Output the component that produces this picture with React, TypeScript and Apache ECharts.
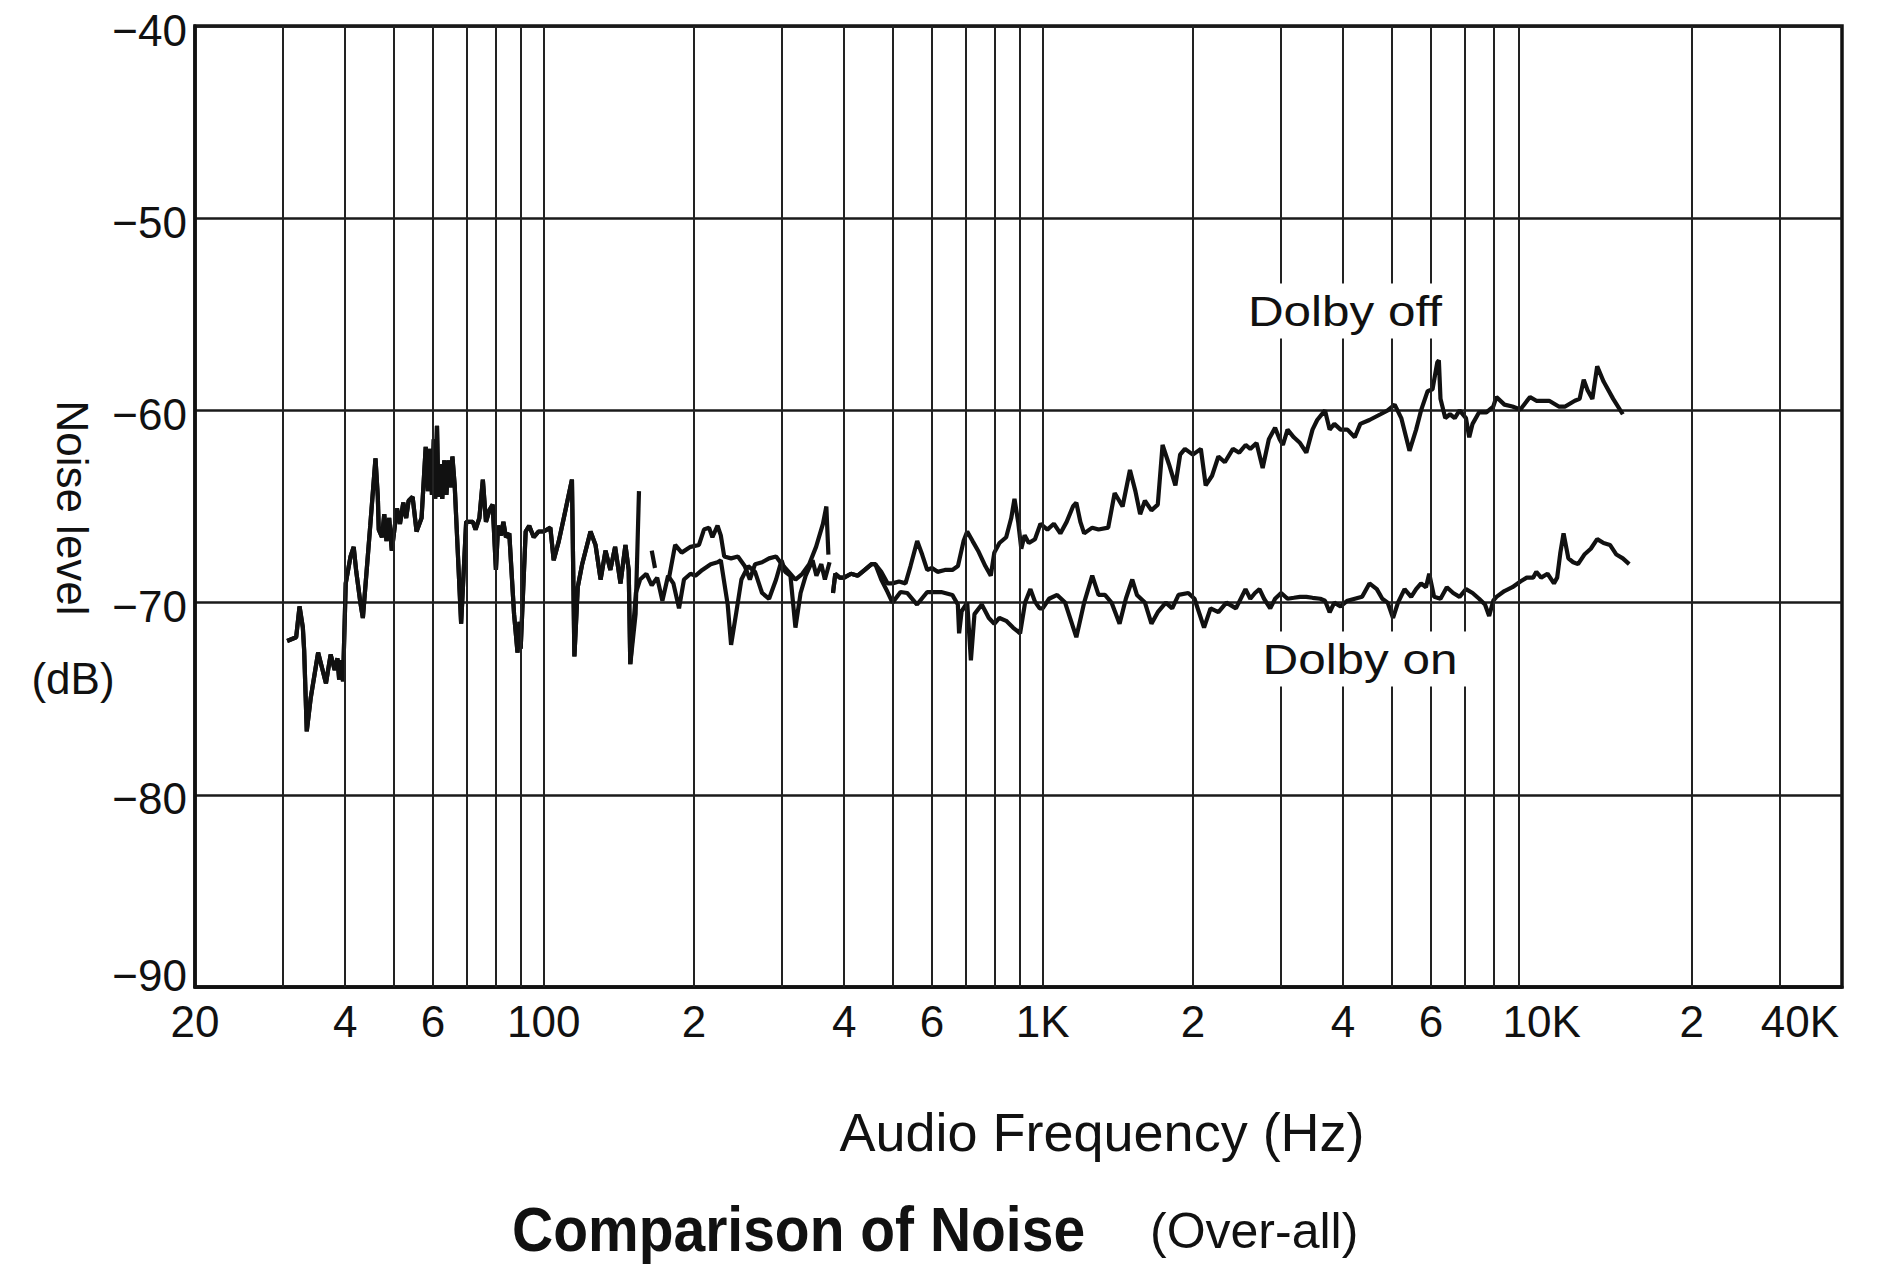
import React, { useEffect, useRef } from "react";
import * as echarts from "echarts";

// Frequencies (Hz) of the printed vertical grid lines
const gridFreqs = [30, 40, 50, 60, 70, 80, 90, 100, 200, 300, 400, 500, 600, 700, 800, 900, 1000, 2000, 3000, 4000, 5000, 6000, 7000, 8000, 9000, 20000, 30000];
// Tick labels on the frequency axis
const tickFreqs = [20, 40, 60, 100, 200, 400, 600, 1000, 2000, 4000, 6000, 10000, 20000, 40000];
const tickTexts = ["20", "4", "6", "100", "2", "4", "6", "1K", "2", "4", "6", "10K", "2", "40K"];

// Common low-frequency trace (both curves coincide)
const commonLow: [number, number][] = [
  [30.6, -72.0], [31.9, -71.8], [32.4, -70.2], [32.9, -71.3], [33.1, -72.5], [33.5, -76.7], [34.1, -75.0], [35.3, -72.6],
  [36.6, -74.2], [37.4, -72.7], [38.1, -73.5], [38.6, -72.9], [38.9, -74.0], [39.2, -73.0], [39.6, -74.1], [40.1, -69.0],
  [41.0, -67.6], [41.6, -67.1], [42.1, -68.4], [42.9, -70.0], [43.4, -70.8], [44.9, -66.0], [46.0, -62.5], [46.5, -64.5],
  [46.7, -66.2], [47.4, -66.6], [47.9, -65.4], [48.4, -66.8], [49.0, -65.6], [49.6, -67.3], [50.8, -65.1], [51.5, -65.9],
  [52.3, -64.8], [53.0, -65.6], [53.6, -64.7], [54.6, -64.5], [55.6, -66.3], [56.9, -65.6], [58.0, -61.9], [58.6, -64.2],
  [59.2, -62.0], [59.7, -64.4], [60.2, -61.5], [60.6, -64.6], [61.1, -60.8], [61.5, -64.5], [62.0, -62.8], [62.6, -64.6],
  [63.2, -62.6], [63.8, -64.4], [64.5, -62.6], [65.1, -64.0], [65.6, -62.4], [66.3, -63.9], [68.3, -71.1], [69.9, -65.8],
  [72.1, -65.8], [73.0, -66.2], [74.3, -65.6], [75.5, -63.6], [76.6, -65.8], [77.8, -65.2], [79.0, -64.9], [80.2, -68.3],
  [81.0, -66.0], [82.1, -66.5], [83.0, -65.8], [84.0, -66.6], [85.3, -66.4], [87.2, -70.6], [88.6, -72.6], [89.4, -71.0],
  [89.9, -72.4], [92.0, -66.3], [93.5, -66.0], [95.5, -66.6], [97.7, -66.3], [100, -66.3], [103.1, -66.1], [104.7, -67.8],
  [107.2, -66.8], [109.7, -65.6], [113.9, -63.6], [115.2, -72.8], [117.0, -69.2], [119.4, -68.0], [124.1, -66.3], [127, -67.0],
  [130, -68.8], [133, -67.3], [136, -68.3], [139, -67.1], [142.5, -69.0], [145.8, -67.0], [148, -68.3], [149.1, -73.2],
];

// Dolby off: spike at the end of the common part, short dash, upper branch 180-375 Hz
const offLowTail: [number, number][] = [[152.8, -70.6], [155.2, -64.2]];
const offDash: [number, number][] = [[164.6, -67.3], [167.1, -68.2]];
const offMid: [number, number][] = [
  [178, -68.8], [183.4, -67.0], [189, -67.4], [196.9, -67.1], [204.7, -67.0], [209.5, -66.2], [214.4, -66.1], [217.8, -66.6],
  [223, -66.0], [226.4, -66.5], [230, -67.6], [237.4, -67.7], [245, -67.6], [252.8, -68.1], [258.9, -68.8], [265.2, -68.0],
  [273.9, -67.9], [282.9, -67.7], [292.2, -67.6], [300, -68.0], [309.7, -68.4], [319.5, -68.8], [329.8, -68.5], [340.4, -68.0],
  [351.4, -67.1], [362.7, -65.9], [368.5, -65.0], [372, -67.5],
];

// Dolby on: lower branch 150-375 Hz
const onMid: [number, number][] = [
  [153, -69.5], [156, -68.8], [160.6, -68.5], [164.6, -69.1], [168.8, -68.7], [172.9, -69.9], [177.5, -68.6], [181.9, -69.0],
  [186.7, -70.3], [191, -68.8], [196.9, -68.5], [201.5, -68.6], [207.9, -68.3], [216.1, -68.0], [223, -67.9], [226.4, -67.8],
  [233.7, -70.1], [237.4, -72.2], [243.2, -70.5], [249, -68.8], [256.9, -68.1], [265.2, -68.4], [273.9, -69.5], [282.9, -69.8],
  [292.2, -68.8], [299.7, -67.8], [304.8, -68.4], [312.2, -68.6], [319.5, -71.3], [327.2, -69.5], [335, -68.6], [345.8, -67.8],
  [352, -68.6], [360, -68.0], [366, -68.8], [374, -67.9],
];

// Both curves together 380-460 Hz
const sharedMid: [number, number][] = [
  [380, -69.5], [384, -68.5], [392, -68.7], [400, -68.7], [413, -68.5], [426, -68.6], [440, -68.3], [454, -68.0], [462, -68.0],
];

const offHigh: [number, number][] = [
  [474.7, -68.4], [488.8, -69.0], [500, -69.0], [515.4, -68.9], [531, -69.0], [543.4, -68.1], [560.4, -66.8], [573.4, -67.5],
  [586.8, -68.3], [600, -68.2], [615.6, -68.4], [637, -68.3], [659.2, -68.3], [676.4, -68.1], [694.1, -66.8], [705.9, -66.3],
  [723.7, -66.8], [742.2, -67.3], [767.5, -68.1], [787, -68.6], [800, -67.4], [819.1, -66.9], [845, -66.6], [865, -65.6],
  [878, -64.6], [893, -65.8], [906, -67.2], [920, -66.5], [938, -66.9], [965, -66.7], [990, -65.9], [1022, -66.2],
  [1053, -65.9], [1085, -66.4], [1117, -65.8], [1150, -65.0], [1168, -64.8], [1190, -65.8], [1211, -66.4], [1257, -66.1],
  [1294, -66.2], [1353, -66.1], [1394, -64.3], [1446, -65.0], [1496, -63.1], [1534, -64.2], [1568, -65.4], [1603, -64.7],
  [1652, -65.2], [1701, -64.9], [1739, -61.8], [1791, -62.8], [1845, -63.9], [1886, -62.3], [1928, -62.0], [2000, -62.3],
  [2075, -62.0], [2122, -63.9], [2185, -63.4], [2250, -62.4], [2318, -62.7], [2406, -62.0], [2477, -62.2], [2551, -61.8],
  [2607, -62.0], [2683, -61.7], [2760, -63.0], [2840, -61.5], [2923, -60.9], [2985, -61.5], [3030, -61.8], [3096, -61.0],
  [3187, -61.4], [3280, -61.7], [3376, -62.2], [3474, -61.0], [3550, -60.5], [3680, -60.0], [3760, -61.0], [3842, -60.7],
  [3954, -61.0], [4082, -61.0], [4222, -61.4], [4331, -60.7], [4518, -60.5], [4754, -60.2], [4915, -60.0], [5076, -59.7],
  [5233, -60.4], [5435, -62.1], [5604, -61.0], [5733, -60.0], [5909, -59.0], [6044, -58.9], [6179, -57.5], [6224, -57.4],
  [6271, -59.4], [6410, -60.4], [6553, -60.2], [6698, -60.4], [6848, -60.0], [7053, -60.4], [7161, -61.4], [7271, -60.7],
  [7494, -60.1], [7750, -60.1], [8000, -59.8], [8118, -59.3], [8423, -59.7], [8739, -59.8], [9068, -59.95], [9477, -59.3],
  [9760, -59.5], [10354, -59.5], [10824, -59.8], [11149, -59.8], [11656, -59.5], [11917, -59.4], [12145, -58.4], [12363, -58.95],
  [12640, -59.4], [12924, -57.7], [13311, -58.5], [13914, -59.4], [14546, -60.2],
];

const onHigh: [number, number][] = [
  [474.7, -68.8], [488.8, -69.45], [500, -70.0], [519, -69.45], [535, -69.5], [560, -70.1], [587, -69.45], [626, -69.45],
  [659, -69.6], [676, -70.1], [680, -71.6], [688, -70.45], [706, -70.0], [718, -73.0], [730, -70.6], [755, -70.1],
  [780, -70.8], [800, -71.1], [819, -70.8], [845, -70.95], [872, -71.3], [901, -71.6], [922, -70.0], [945, -69.3],
  [965, -69.95], [986, -70.3], [1000, -70.3], [1030, -69.8], [1069, -69.6], [1109, -70.0], [1168, -71.8], [1211, -70.0],
  [1257, -68.6], [1294, -69.6], [1333, -69.6], [1374, -70.0], [1426, -71.1], [1468, -69.8], [1512, -68.8], [1545, -69.6],
  [1603, -70.0], [1652, -71.1], [1701, -70.5], [1765, -70.0], [1818, -70.3], [1872, -69.6], [1958, -69.5], [2015, -69.8],
  [2106, -71.3], [2170, -70.3], [2250, -70.5], [2335, -70.0], [2440, -70.3], [2550, -69.3], [2607, -69.8], [2664, -69.5],
  [2720, -69.3], [2778, -69.8], [2858, -70.3], [2923, -69.8], [3006, -69.5], [3096, -69.8], [3187, -69.75], [3280, -69.7],
  [3376, -69.7], [3474, -69.75], [3600, -69.8], [3680, -69.9], [3760, -70.5], [3842, -70.0], [3954, -70.2], [4082, -69.9],
  [4222, -69.8], [4368, -69.7], [4518, -69.0], [4674, -69.3], [4794, -69.8], [4915, -70.0], [5038, -70.8], [5154, -70.0],
  [5313, -69.3], [5477, -69.7], [5604, -69.3], [5733, -69.0], [5864, -69.2], [5953, -68.5], [6089, -69.7], [6271, -69.8],
  [6457, -69.2], [6650, -69.5], [6848, -69.7], [7053, -69.3], [7271, -69.5], [7494, -69.8], [7700, -70.1], [7850, -70.7],
  [8000, -69.9], [8118, -69.7], [8423, -69.4], [8739, -69.2], [9068, -68.9], [9338, -68.7], [9618, -68.7], [9760, -68.4],
  [9979, -68.7], [10278, -68.5], [10586, -69.0], [10744, -68.7], [10904, -67.4], [11066, -66.4], [11315, -67.7], [11570, -67.9],
  [11829, -68.0], [12181, -67.5], [12547, -67.2], [12924, -66.7], [13311, -66.9], [13710, -67.0], [14121, -67.5], [14546, -67.7],
  [14983, -68.0],
];

const FONT = "'Liberation Sans', Arial, Helvetica, sans-serif";
const INK = "#111111";

export default function App() {
  const ref = useRef<HTMLDivElement>(null);

  useEffect(() => {
    document.body.style.margin = "0";
    if (!ref.current) return;
    const chart = echarts.init(ref.current, null, { renderer: "svg" });

    const gap = (f: number) => [f, null];
    const dolbyOff = [
      ...commonLow, ...offLowTail, gap(159), ...offDash, gap(172), ...offMid, gap(376), ...sharedMid, ...offHigh,
    ];
    const dolbyOn = [...commonLow, ...onMid, gap(377), ...sharedMid, ...onHigh];

    const markData: any[] = [];
    gridFreqs.forEach((f) => {
      markData.push({ xAxis: f, label: { show: false } });
    });
    tickFreqs.forEach((f, i) => {
      const last = i === tickFreqs.length - 1;
      markData.push({
        xAxis: f,
        lineStyle: { color: "rgba(0,0,0,0)", width: 0 },
        label: {
          show: true,
          formatter: tickTexts[i],
          color: INK,
          opacity: 1,
          padding: last ? [0, 84, 0, 0] : 0,
        },
      });
    });

    chart.setOption({
      animation: false,
      backgroundColor: "#ffffff",
      grid: {
        left: 195,
        right: 44,
        top: 18,
        bottom: 277,
        show: true,
        borderColor: INK,
        borderWidth: 3.5,
        backgroundColor: "transparent",
      },
      xAxis: {
        type: "log",
        logBase: 10,
        min: 20,
        max: 40000,
        axisLine: { show: true, lineStyle: { color: INK, width: 3.5 } },
        axisTick: { show: false },
        axisLabel: { show: false },
        splitLine: { show: false },
        minorSplitLine: { show: false },
      },
      yAxis: {
        type: "value",
        min: -90,
        max: -40,
        interval: 10,
        axisLine: { show: true, lineStyle: { color: INK, width: 3.5 } },
        axisTick: { show: false },
        axisLabel: {
          margin: 8,
          fontSize: 44,
          lineHeight: 44,
          padding: [8, 0, 0, 0],
          fontFamily: FONT,
          color: INK,
          formatter: (v: number) => {
            const t = v < 0 ? "\u2212" + Math.abs(v) : String(v);
            return v === -90 ? "{low|" + t + "}" : t;
          },
          rich: {
            low: {
              fontSize: 44,
              lineHeight: 44,
              fontFamily: FONT,
              color: INK,
              padding: [0, 0, 32, 0],
            },
          },
        },
        splitLine: { show: true, lineStyle: { color: "#1a1a1a", width: 2.5 } },
      },
      series: [
        {
          name: "Dolby off",
          type: "line",
          data: dolbyOff,
          showSymbol: false,
          connectNulls: false,
          silent: true,
          lineStyle: { color: INK, width: 4.2 },
          z: 3,
          markLine: {
            silent: true,
            symbol: ["none", "none"],
            animation: false,
            lineStyle: { color: "#222222", width: 2, type: "solid", opacity: 1 },
            label: {
              position: "start",
              distance: 12,
              fontSize: 44,
              fontFamily: FONT,
              color: INK,
            },
            emphasis: { disabled: true },
            data: markData,
          },
        },
        {
          name: "Dolby on",
          type: "line",
          data: dolbyOn,
          showSymbol: false,
          connectNulls: false,
          silent: true,
          lineStyle: { color: INK, width: 4.2 },
          z: 3,
        },
      ],
      graphic: [
        {
          type: "text",
          x: 1345,
          y: 311,
          z: 100,
          scaleX: 1.15,
          style: {
            text: "Dolby off",
            font: `43px ${FONT}`,
            fill: INK,
            align: "center",
            verticalAlign: "middle",
            textAlign: "center",
            textVerticalAlign: "middle",
            backgroundColor: "#ffffff",
            padding: [6, 8],
          },
        },
        {
          type: "text",
          x: 1360,
          y: 659,
          z: 100,
          scaleX: 1.15,
          style: {
            text: "Dolby on",
            font: `43px ${FONT}`,
            fill: INK,
            align: "center",
            verticalAlign: "middle",
            textAlign: "center",
            textVerticalAlign: "middle",
            backgroundColor: "#ffffff",
            padding: [6, 8],
          },
        },
        {
          type: "text",
          x: 72,
          y: 508,
          rotation: -Math.PI / 2,
          z: 100,
          style: {
            text: "Noise level",
            font: `44px ${FONT}`,
            fill: INK,
            align: "center",
            verticalAlign: "middle",
            textAlign: "center",
            textVerticalAlign: "middle",
          },
        },
        {
          type: "text",
          x: 73,
          y: 678,
          z: 100,
          style: {
            text: "(dB)",
            font: `44px ${FONT}`,
            fill: INK,
            align: "center",
            verticalAlign: "middle",
            textAlign: "center",
            textVerticalAlign: "middle",
          },
        },
        {
          type: "text",
          x: 1102,
          y: 1132,
          z: 100,
          style: {
            text: "Audio Frequency (Hz)",
            font: `54px ${FONT}`,
            fill: INK,
            align: "center",
            verticalAlign: "middle",
            textAlign: "center",
            textVerticalAlign: "middle",
          },
        },
        {
          type: "text",
          x: 512,
          y: 1229,
          z: 100,
          scaleY: 1.12,
          style: {
            text: "Comparison of Noise",
            font: `bold 57px ${FONT}`,
            fill: INK,
            align: "left",
            verticalAlign: "middle",
            textAlign: "left",
            textVerticalAlign: "middle",
          },
        },
        {
          type: "text",
          x: 1150,
          y: 1231,
          z: 100,
          style: {
            text: "(Over-all)",
            font: `50px ${FONT}`,
            fill: INK,
            align: "left",
            verticalAlign: "middle",
            textAlign: "left",
            textVerticalAlign: "middle",
          },
        },
      ],
    });

    return () => chart.dispose();
  }, []);

  return <div ref={ref} style={{ width: 1886, height: 1264 }} />;
}
